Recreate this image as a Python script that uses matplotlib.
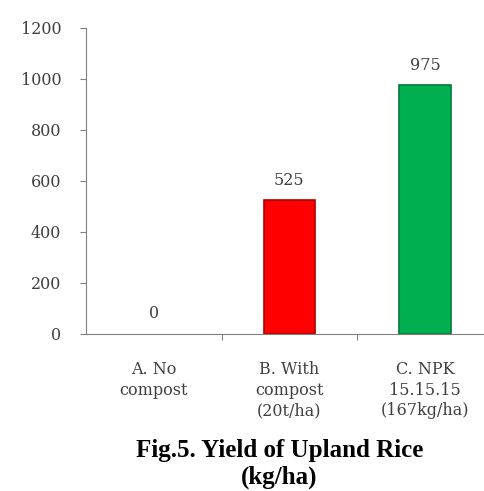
import matplotlib.pyplot as plt

# yield data (kg/ha)
categories = ['A. No\ncompost', 'B. With\ncompost\n(20t/ha)', 'C. NPK\n15.15.15\n(167kg/ha)']
yields = [0, 525, 975]
bar_colors = ['#FF0000', '#FF0000', '#00B050']
edge_colors = ['#B00000', '#B00000', '#007A38']
y_ticks = [0, 200, 400, 600, 800, 1000, 1200]

fig = plt.figure(figsize=(4.84, 4.91), dpi=100)
ax = fig.add_axes([0.178, 0.320, 0.84, 0.623])

x = range(len(categories))
bars = ax.bar(x, yields, width=0.38, color=bar_colors, edgecolor=edge_colors,
              linewidth=[0 if v == 0 else 1.2 for v in yields])

# value labels above bars
for xi, v in zip(x, yields):
    ax.text(xi, v + 45, str(v), ha='center', va='bottom',
            family='DejaVu Serif', fontsize=11.5, color='#404040')

ax.set_xlim(-0.5, 2.5)
ax.set_ylim(0, 1200)
ax.set_yticks(y_ticks)
ax.set_yticklabels([str(t) for t in y_ticks], family='DejaVu Serif', fontsize=11.5, color='#404040')

# category names centred, tick marks between groups
ax.set_xticks([0.5, 1.5])
ax.set_xticklabels([])
ax.tick_params(axis='x', length=4, color='#808080')
ax.tick_params(axis='y', length=4, color='#808080', pad=14)
for xi, label in zip(x, categories):
    ax.text(xi, -105, label, ha='center', va='top', transform=ax.transData,
            family='DejaVu Serif', fontsize=11.5, color='#404040', linespacing=1.3)

for side in ['top', 'right']:
    ax.spines[side].set_visible(False)
for side in ['left', 'bottom']:
    ax.spines[side].set_color('#808080')

fig.text(0.577, 0.055, 'Fig.5. Yield of Upland Rice\n(kg/ha)', ha='center', va='center',
         family='Liberation Serif', fontweight='bold', fontsize=18, linespacing=1.15)

plt.savefig('out.png', dpi=100)
